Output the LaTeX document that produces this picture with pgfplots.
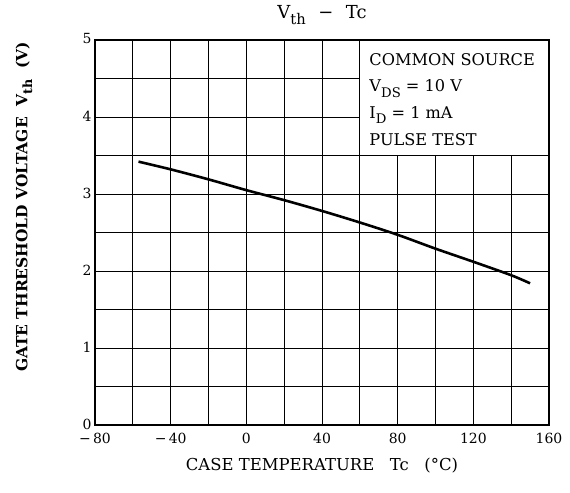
\documentclass[border=0pt]{standalone}
\usepackage{pgfplots}
\pgfplotsset{compat=1.18}
\usepackage{fontspec}
\setmainfont{DejaVu Serif}
\newcommand\sub[1]{\raisebox{-0.32em}{\scalebox{0.82}{#1}}}
\begin{document}
\begin{tikzpicture}[x=1bp,y=1bp]
\useasboundingbox (-95,-68) rectangle (475,425);
\begin{axis}[
  at={(0,0)}, anchor=south west,
  scale only axis, width=454bp, height=385bp,
  xmin=-80, xmax=160, ymin=0, ymax=5,
  xtick={-80,-40,0,40,80,120,160},
  xticklabels={{−\,80},{−\,40},0,40,80,120,160},
  minor xtick={-60,-20,20,60,100,140},
  ytick={0,1,2,3,4,5},
  yticklabels={0,1,2,3,4,5},
  minor ytick={0.5,1.5,2.5,3.5,4.5},
  grid=both,
  major grid style={black, line width=0.8pt},
  minor grid style={black, line width=0.8pt},
  major tick length=0pt, minor tick length=0pt,
  axis line style={black, line width=1.6pt},
  tick label style={font=\fontsize{14}{16}\selectfont},
  xticklabel style={yshift=-5pt},
  yticklabel style={xshift=0pt, yshift=1pt},
  clip=false,
]
\addplot[black, line width=2.6pt, smooth] coordinates {
(-57,3.42) (-40,3.32) (-20,3.19) (0,3.05) (20,2.92) (40,2.78) (60,2.63) (80,2.47) (100,2.29) (120,2.12) (140,1.945) (150,1.84)
};
\fill[white] (axis cs:60,3.5) rectangle (axis cs:160,5);
\draw[black, line width=0.8pt] (axis cs:60,5) -- (axis cs:60,3.5) -- (axis cs:160,3.5);
\draw[black, line width=1.6pt] (axis cs:60,5) -- (axis cs:160,5) -- (axis cs:160,3.5);
\node[anchor=north west, align=left, font=\fontsize{16.2}{26.7}\selectfont, inner sep=0pt]
  at (axis cs:65,4.83) {COMMON SOURCE\\V\sub{DS} = 10 V\\I\sub{D} = 1 mA\\PULSE TEST};
\end{axis}
\node[font=\fontsize{18}{20}\selectfont] at (227,410) {V\sub{th}\hspace{0.7em}−\hspace{0.7em}Tc};
\node[font=\fontsize{16.5}{18}\selectfont] at (227,-41) {CASE TEMPERATURE\ \ \ Tc\ \ \ (°C)};
\node[rotate=90, font=\bfseries\fontsize{15.5}{16}\selectfont] at (-71,218) {GATE THRESHOLD VOLTAGE\ \ V\sub{th}\ \ (V)};
\end{tikzpicture}
\end{document}
